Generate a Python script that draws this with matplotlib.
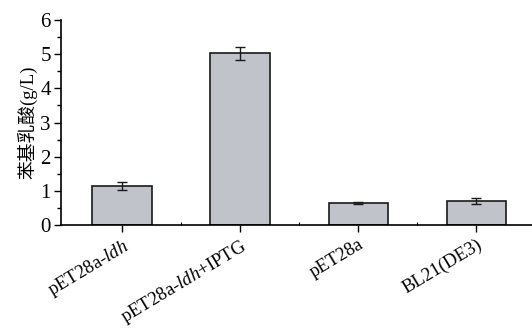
import numpy as np
import matplotlib
matplotlib.use('Agg')
import matplotlib.pyplot as plt
from matplotlib.ticker import MultipleLocator, FixedLocator

# data
strains = ['pET28a-$\\it{ldh}$', 'pET28a-$\\it{ldh}$+IPTG', 'pET28a', 'BL21(DE3)']
pla = [1.14, 5.02, 0.635, 0.71]
pla_err = [0.12, 0.19, 0.03, 0.08]

plt.rcParams['font.family'] = ['Liberation Serif', 'Noto Sans CJK SC']
plt.rcParams['mathtext.fontset'] = 'custom'
plt.rcParams['mathtext.rm'] = 'Liberation Serif'
plt.rcParams['mathtext.it'] = 'Liberation Serif:italic'

fig = plt.figure(figsize=(5.32, 3.32), dpi=100)
ax = fig.add_axes([0.114, 0.322, 0.886, 0.618])

x = np.arange(len(strains))
ax.bar(x, pla, width=0.505, color='#c1c3cb', edgecolor='#1a1a1a', linewidth=1.2, zorder=2)
ax.errorbar(x, pla, yerr=pla_err, fmt='none', ecolor='#1a1a1a', elinewidth=1.0,
            capsize=3.5, capthick=1.0, zorder=3)

ax.set_xlim(-0.52, 3.47)
ax.set_ylim(0, 6)
ax.set_xticks(x)
ax.set_xticklabels(strains, rotation=31, ha='right', rotation_mode='anchor', fontsize=13.5)
ax.xaxis.set_minor_locator(FixedLocator(x[:-1] + 0.5))
ax.yaxis.set_major_locator(MultipleLocator(1))
ax.yaxis.set_minor_locator(MultipleLocator(0.5))
ax.tick_params(axis='y', which='major', length=5, width=1, labelsize=15, pad=2)
ax.tick_params(axis='y', which='minor', length=3, width=1)
ax.tick_params(axis='x', which='major', length=5, width=1, pad=3)
ax.tick_params(axis='x', which='minor', length=2, width=0.8, direction='in')

ax.set_ylabel('苯基乳酸(g/L)', fontsize=13.5, labelpad=2)

for s in ['top', 'right']:
    ax.spines[s].set_visible(False)
for s in ['left', 'bottom']:
    ax.spines[s].set_linewidth(1.2)

fig.savefig('out.png', dpi=100)
